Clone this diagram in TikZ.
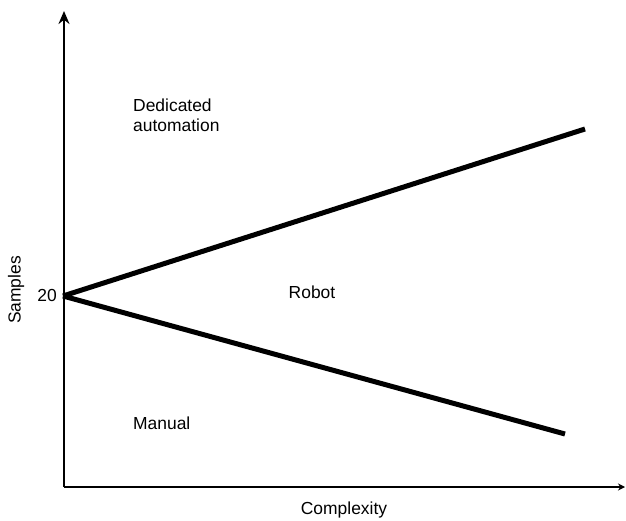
\documentclass[tikz,border=0pt]{standalone}
\usepackage{fontspec}
\setmainfont{Liberation Sans}
\usetikzlibrary{arrows.meta}
\begin{document}
\begin{tikzpicture}[x=1bp,y=-1bp,
  axis/.style={line width=2.8bp},
  boundary/.style={line width=5bp},
  lbl/.style={font=\fontsize{17.5}{20}\selectfont, inner sep=0pt}]
\useasboundingbox (0,0) rectangle (626,521);
% axes
\coordinate (origin) at (64,487);
\coordinate (ytop) at (64,11);
\coordinate (xend) at (625,487);
\draw[axis, -{Stealth[length=13bp,width=11bp]}] (origin) -- (ytop);
\draw[axis, -{Stealth[length=7bp,width=7bp]}] (origin) -- (xend);
% region boundaries
\coordinate (v) at (63,296);
\coordinate (up) at (585,129);
\coordinate (lo) at (565,434);
\draw[boundary] (v) -- (up);
\draw[boundary] (v) -- (lo);
% labels
\node[lbl, anchor=east] (twenty) at (57,295) {20};
\node[lbl, rotate=90] (samples) at (16,290) {Samples};
\node[lbl] (complexity) at (344,510) {Complexity};
\node[lbl, anchor=north west, align=left] (ded) at (133,99) {Dedicated\\automation};
\node[lbl] (robot) at (312,292) {Robot};
\node[lbl, anchor=west] (manual) at (133,423) {Manual};
\end{tikzpicture}
\end{document}
